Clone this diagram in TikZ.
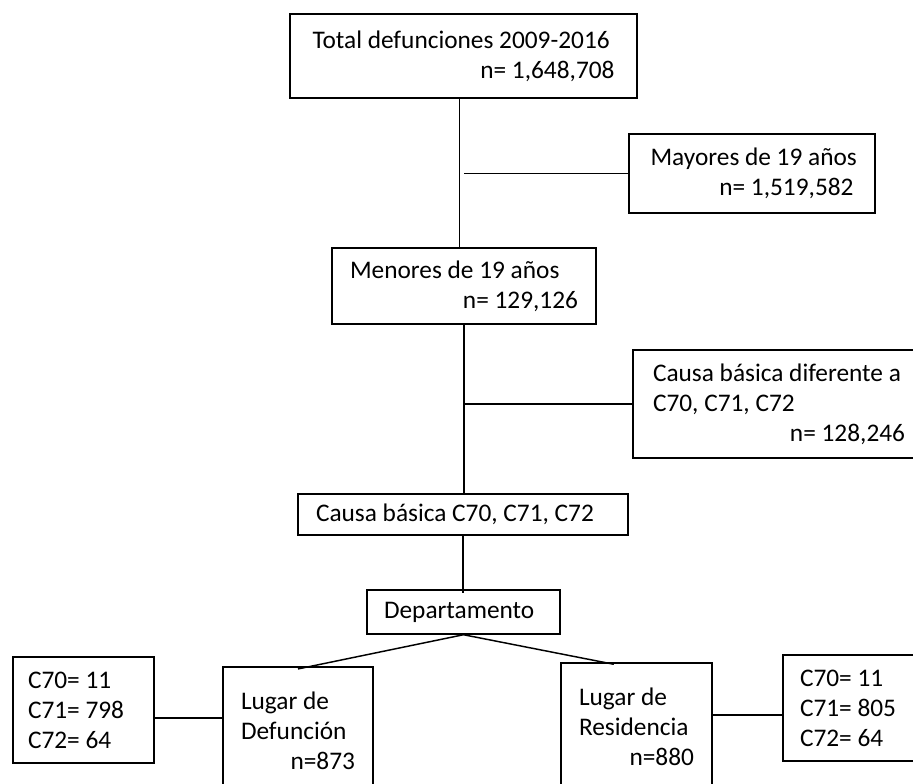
\documentclass[tikz,border=0pt]{standalone}
\usepackage{fontspec}
\setmainfont{Carlito}
\usepackage{tikz}

\begin{document}
\begin{tikzpicture}[x=0.75pt,y=0.75pt,yscale=-1,
  box/.style={draw, line width=1.1pt, inner xsep=0pt, inner ysep=0pt, align=flush left,
    font=\fontsize{19pt}{22.5pt}\selectfont},
  link/.style={line width=1.1pt}]
\clip (0,0) rectangle (913,784);

%Boxes, main column
\node[box, minimum width=260.25pt, minimum height=63pt, text width=226.5pt] (total) at (463.5,56) {Total defunciones 2009-2016\\\hspace*{\fill}n= 1,648,708};
\node[box, minimum width=198pt, minimum height=57pt, text width=171pt] (menores) at (464,286) {Menores de 19 años\\\hspace*{\fill}n= 129,126};
\node[box, minimum width=247.5pt, minimum height=30.75pt, text width=220.5pt] (basica) at (463,514.5) {Causa básica C70, C71, C72};
\node[box, minimum width=144.75pt, minimum height=33pt, text width=119.25pt] (depto) at (463.5,612) {Departamento};

%Boxes, side
\node[box, minimum width=184.5pt, minimum height=59.25pt, text width=152.25pt] (mayores) at (752,173.5) {\mbox{Mayores de 19 años}\\\hspace*{\fill}n= 1,519,582};
\node[box, minimum width=219pt, minimum height=81pt, text width=189pt] (diferente) at (779,404) {\mbox{Causa básica diferente a}\\C70, C71, C72\\\hspace*{\fill}n= 128,246};

%Boxes, bottom row
\node[box, minimum width=112.5pt, minimum height=96pt, text width=85.5pt] (defuncion) at (298,731) {Lugar de\\Defunción\\\hspace*{\fill}n=873};
\node[box, minimum width=113.25pt, minimum height=96pt, text width=86.25pt] (residencia) at (636.5,727) {Lugar de\\Residencia\\\hspace*{\fill}n=880};
\node[box, minimum width=105.75pt, minimum height=79.5pt, text width=83.25pt] (cleft) at (83.5,710) {C70= 11\\C71= 798\\C72= 64};
\node[box, minimum width=106.5pt, minimum height=79.5pt, text width=81pt] (cright) at (854,708) {C70= 11\\C71= 805\\C72= 64};

%Straight Lines
\draw[link] ([xshift=-3pt]total.south) -- ([xshift=-3pt]total.south |- menores.north);
\draw[link] (mayores.west) -- (mayores.west -| total.south);
\draw[link] (menores.south) -- (menores.south |- basica.north);
\draw[link] (diferente.west) -- (diferente.west -| menores.south);
\draw[link] (basica.south) -- ([yshift=3pt]basica.south |- depto.north);
\draw[link] (depto.south) -- ([yshift=2pt]defuncion.north);
\draw[link] (depto.south) -- ([xshift=-17pt,yshift=1.5pt]residencia.north);
\draw[link] ([yshift=6pt]cleft.east) -- ([yshift=6pt]cleft.east -| defuncion.west);
\draw[link] ([yshift=5.25pt]cright.west -| residencia.east) -- ([yshift=5.25pt]cright.west);

\end{tikzpicture}
\end{document}
